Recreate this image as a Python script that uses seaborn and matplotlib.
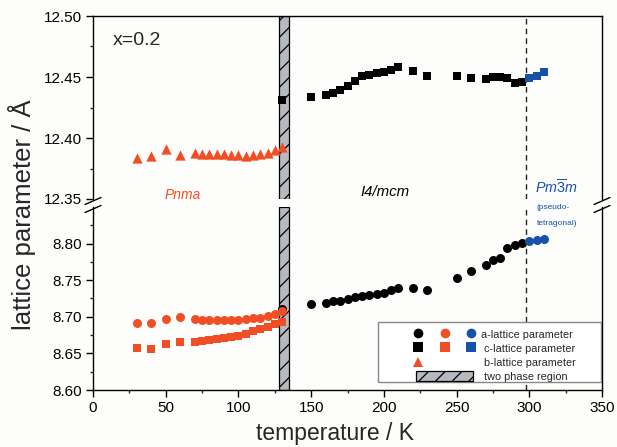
import numpy as np
import pandas as pd
import matplotlib
matplotlib.use("Agg")
import matplotlib.pyplot as plt
import seaborn as sns
from matplotlib.lines import Line2D
from matplotlib.patches import Patch, Rectangle
from matplotlib.legend_handler import HandlerTuple

# ---------------- data ----------------
T_pnma = [30, 40, 50, 60, 70, 75, 80, 85, 90, 95, 100, 105, 110, 115, 120, 125, 130]
a_pnma = [8.692, 8.691, 8.697, 8.700, 8.697, 8.695, 8.695, 8.695, 8.695, 8.695,
          8.696, 8.697, 8.698, 8.699, 8.701, 8.704, 8.708]
c_pnma = [8.657, 8.656, 8.663, 8.665, 8.665, 8.667, 8.668, 8.669, 8.671, 8.672,
          8.674, 8.677, 8.681, 8.683, 8.686, 8.690, 8.693]
b_pnma = [12.384, 12.385, 12.391, 12.386, 12.388, 12.387, 12.387, 12.387, 12.387,
          12.386, 12.386, 12.385, 12.386, 12.387, 12.388, 12.390, 12.393]

T_i4 = [130, 150, 160, 165, 170, 175, 180, 185, 190, 195, 200, 205, 210, 220, 230,
        250, 260, 270, 275, 280, 285, 290, 295]
a_i4 = [8.711, 8.717, 8.719, 8.721, 8.722, 8.724, 8.727, 8.728, 8.730, 8.731, 8.733,
        8.736, 8.739, 8.740, 8.737, 8.753, 8.763, 8.771, 8.778, 8.781, 8.794, 8.798, 8.801]
c_i4 = [12.431, 12.434, 12.435, 12.437, 12.439, 12.443, 12.447, 12.451, 12.452, 12.453,
        12.454, 12.456, 12.458, 12.455, 12.451, 12.451, 12.449, 12.448, 12.450, 12.450,
        12.449, 12.445, 12.446]

T_cub = [300, 305, 310]
a_cub = [8.804, 8.805, 8.806]
c_cub = [12.449, 12.451, 12.454]

two_phase = (128, 135)
T_transition = 298

upper_ticks = [12.35, 12.40, 12.45, 12.50]
lower_ticks = [8.60, 8.65, 8.70, 8.75, 8.80]
x_ticks = [0, 50, 100, 150, 200, 250, 300, 350]

ORANGE = "#f04f26"
BLUE = "#1552a8"
BLACK = "#000000"
HATCH_FC = "#b6babe"
BG = "#fdfdfb"

# ---------------- style ----------------
sns.set_style("ticks")
plt.rcParams["font.family"] = ["Liberation Sans", "DejaVu Sans"]
plt.rcParams["mathtext.fontset"] = "custom"
plt.rcParams["mathtext.rm"] = "Liberation Sans"
plt.rcParams["mathtext.it"] = "Liberation Sans:italic"
plt.rcParams["hatch.linewidth"] = 0.9
plt.rcParams["axes.linewidth"] = 1.0

fig = plt.figure(figsize=(6.17, 4.47), dpi=100, facecolor=BG)
W, H = 617.0, 447.0
x0, x1 = 93 / W, 602 / W
ax_up = fig.add_axes([x0, 1 - 199 / H, x1 - x0, 183 / H])
ax_lo = fig.add_axes([x0, 1 - 390 / H, x1 - x0, 183 / H])

df_pnma = pd.DataFrame({"T": T_pnma, "a": a_pnma, "b": b_pnma, "c": c_pnma})
df_i4 = pd.DataFrame({"T": T_i4, "a": a_i4, "c": c_i4})
df_cub = pd.DataFrame({"T": T_cub, "a": a_cub, "c": c_cub})

for ax in (ax_up, ax_lo):
    ax.set_facecolor(BG)
    ax.axvspan(*two_phase, facecolor=HATCH_FC, edgecolor="black", hatch="//",
               linewidth=0.9, zorder=1)
    ax.axvline(T_transition, color="#222222", linestyle=(0, (4, 3)), linewidth=1.0, zorder=1)
    ax.set_xlim(0, 350)

# upper panel
sns.scatterplot(data=df_pnma, x="T", y="b", marker="^", color=ORANGE, s=55,
                linewidth=0, ax=ax_up, zorder=3)
sns.scatterplot(data=df_i4, x="T", y="c", marker="s", color=BLACK, s=34,
                linewidth=0, ax=ax_up, zorder=3)
sns.scatterplot(data=df_cub, x="T", y="c", marker="s", color=BLUE, s=34,
                linewidth=0, ax=ax_up, zorder=3)

# lower panel
sns.scatterplot(data=df_i4, x="T", y="a", marker="o", color=BLACK, s=42,
                linewidth=0, ax=ax_lo, zorder=3)
sns.scatterplot(data=df_pnma, x="T", y="a", marker="o", color=ORANGE, s=42,
                linewidth=0, ax=ax_lo, zorder=3)
sns.scatterplot(data=df_pnma, x="T", y="c", marker="s", color=ORANGE, s=34,
                linewidth=0, ax=ax_lo, zorder=3)
sns.scatterplot(data=df_cub, x="T", y="a", marker="o", color=BLUE, s=42,
                linewidth=0, ax=ax_lo, zorder=3)

ax_up.set_ylim(12.35, 12.50)
ax_lo.set_ylim(8.60, 8.85)
ax_up.set_yticks(upper_ticks)
ax_up.set_yticks(np.arange(12.375, 12.50, 0.05), minor=True)
ax_lo.set_yticks(lower_ticks)
ax_lo.set_yticks(np.arange(8.625, 8.85, 0.05), minor=True)
ax_up.set_yticklabels([f"{v:.2f}" for v in upper_ticks])
ax_lo.set_yticklabels([f"{v:.2f}" for v in lower_ticks])
ax_lo.set_xticks(x_ticks)
ax_lo.set_xticks(np.arange(25, 350, 50), minor=True)
ax_up.set_xticks([])
ax_up.set_xticks([], minor=True)

for ax in (ax_up, ax_lo):
    ax.set_xlabel("")
    ax.set_ylabel("")
    ax.tick_params(axis="both", which="major", direction="out", length=5, width=1,
                   labelsize=11, colors="black", pad=3)
    ax.tick_params(axis="both", which="minor", direction="out", length=2.5, width=1)
    for s in ax.spines.values():
        s.set_color("black")
        s.set_linewidth(1.0)

ax_up.spines["bottom"].set_visible(False)
ax_lo.spines["top"].set_visible(False)
ax_up.tick_params(axis="x", which="both", bottom=False, labelbottom=False)

# axis-break marks
kw = dict(color="black", linewidth=1.0, clip_on=False, transform=fig.transFigure)
for xb in (x0, x1):
    for yb in (1 - 201 / H, 1 - 209 / H):
        fig.add_artist(Line2D([xb - 8 / W, xb + 8 / W], [yb - 3.5 / H, yb + 3.5 / H], **kw))

# texts
ax_up.text(13.5, 12.480, "x=0.2", fontsize=14, ha="left", va="center")
ax_up.text(62, 12.353, "Pnma", fontsize=10, style="italic", color=ORANGE,
           ha="center", va="center")
ax_up.text(201, 12.3555, "I4/mcm", fontsize=10.8, style="italic", color="black",
           ha="center", va="center")
ax_up.text(304, 12.3595, r"$Pm\overline{3}m$", fontsize=10.3, color=BLUE,
           ha="left", va="center")
ax_lo.text(305, 8.8495, "(pseudo-", fontsize=6, color=BLUE, ha="left", va="center",
           clip_on=False)
ax_lo.text(305, 8.828, "tetragonal)", fontsize=6, color=BLUE, ha="left", va="center")

fig.text(335 / W, 1 - 440 / H, "temperature / K", fontsize=16.5, ha="center",
         va="baseline")
fig.text(22 / W, 1 - 215 / H, "lattice parameter / Å", fontsize=18.5, rotation=90,
         ha="center", va="center")

# legend
ax_lo.add_patch(Rectangle((0.56, 0.044), 0.438, 0.328, transform=ax_lo.transAxes,
                          facecolor="white", edgecolor="#888888", linewidth=1.0,
                          zorder=5))
ms = 7


def mk(m, c):
    return Line2D([], [], marker=m, color=c, linestyle="none", markersize=ms,
                  markeredgewidth=0)


blank = Line2D([], [], linestyle="none")
handles = [
    (mk("o", BLACK), mk("o", ORANGE), mk("o", BLUE)),
    (mk("s", BLACK), mk("s", ORANGE), mk("s", BLUE)),
    (mk("^", ORANGE), blank, blank),
    Patch(facecolor=HATCH_FC, edgecolor="black", hatch="//", linewidth=0.9),
]
labels = ["a-lattice parameter", " c-lattice parameter", " b-lattice parameter",
          " two phase region"]
leg = ax_lo.legend(handles, labels, handler_map={tuple: HandlerTuple(ndivide=3, pad=2.1)},
                   loc="upper left", bbox_to_anchor=((416 - 93) / 509, 0.334),
                   frameon=False, fontsize=7.8, handlelength=5.3, handleheight=1.05,
                   handletextpad=0.7, labelspacing=0.32, borderpad=0, borderaxespad=0)
leg.set_zorder(6)

fig.savefig("out.png", dpi=100, facecolor=BG)
